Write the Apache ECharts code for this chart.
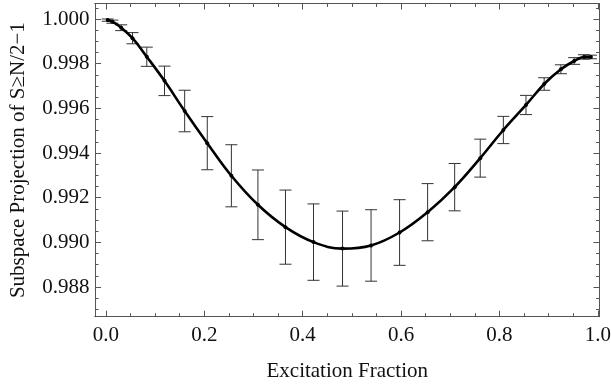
<!DOCTYPE html>
<html>
<head>
<meta charset="utf-8">
<script src="https://cdn.jsdelivr.net/npm/echarts@6/dist/echarts.min.js"></script>
<style>
html,body{margin:0;padding:0;background:#fff;}
#chart{width:611px;height:392px;}
</style>
</head>
<body>
<div id="chart"></div>
<script>
// ---- data ----
const excitation = [0.0035, 0.013, 0.031, 0.054, 0.083, 0.119, 0.160, 0.206, 0.255, 0.309, 0.365, 0.422, 0.481, 0.539, 0.597, 0.654, 0.709, 0.761, 0.808, 0.854, 0.891, 0.925, 0.952, 0.972, 0.986];
const projection = [0.99995, 0.99988, 0.99961, 0.99914, 0.99831, 0.99723, 0.99588, 0.99444, 0.99298, 0.99168, 0.99068, 0.99001, 0.98972, 0.98986, 0.99044, 0.99135, 0.99247, 0.99377, 0.99503, 0.99615, 0.99709, 0.99775, 0.99812, 0.99830, 0.99830];
const errors = [0.00005, 0.00007, 0.00013, 0.00025, 0.00043, 0.00066, 0.00093, 0.00119, 0.00139, 0.00156, 0.00166, 0.00171, 0.00168, 0.00160, 0.00147, 0.00128, 0.00106, 0.00085, 0.00061, 0.00043, 0.00028, 0.00020, 0.00015, 0.00010, 0.00008];
const xTickLabels = [0.0, 0.2, 0.4, 0.6, 0.8, 1.0];
const yTickLabels = [0.988, 0.990, 0.992, 0.994, 0.996, 0.998, 1.000];
const xTitle = 'Excitation Fraction';
const yTitle = 'Subspace Projection of S\u2265N/2\u22121';

// axis ranges
const X_MIN = -0.0223, X_MAX = 1.0035;
const Y_MIN = 0.98667, Y_MAX = 1.000694;

// minor ticks (every 0.05 on x, every 0.0005 on y, majors excluded)
const xMinor = [];
for (let i = 0; i <= 20; i++) { if (i % 4 !== 0) xMinor.push(i * 0.05); }
const yMinorVals = [];
for (let k = 1974; k <= 2001; k++) { if (k % 4 !== 0) yMinorVals.push(k * 0.0005); }

const FONT = 'Liberation Serif';
const AX = '#555';
const GRID = { left: 94.5, right: 11.5, top: 3.5, bottom: 75.3 };

function xAx(pos, major, showName) {
  return {
    type: 'value', position: pos, min: X_MIN, max: X_MAX,
    axisLine: { show: true, onZero: false, lineStyle: { color: AX, width: 1 } },
    axisTick: { show: true, inside: true, length: major ? 6 : 3.5, lineStyle: { color: AX, width: 1 },
      customValues: major ? xTickLabels : xMinor },
    axisLabel: { show: false },
    splitLine: { show: false },
    name: showName ? xTitle : '', nameLocation: 'middle', nameGap: 44,
    nameTextStyle: { fontFamily: FONT, fontSize: 21, color: '#111' }
  };
}
function yAx(pos, major, showName) {
  return {
    type: 'value', position: pos, min: Y_MIN, max: Y_MAX,
    axisLine: { show: true, onZero: false, lineStyle: { color: AX, width: 1 } },
    axisTick: { show: true, inside: true, length: major ? 6 : 3.5, lineStyle: { color: AX, width: 1 },
      customValues: major ? yTickLabels : yMinorVals },
    axisLabel: { show: false },
    splitLine: { show: false },
    name: showName ? yTitle : '', nameLocation: 'middle', nameGap: 66,
    nameTextStyle: { fontFamily: FONT, fontSize: 21, color: '#111' }
  };
}

const pts = excitation.map((x, i) => [x, projection[i]]);
const errData = excitation.map((x, i) => [x, projection[i] - errors[i], projection[i] + errors[i]]);

const chart = echarts.init(document.getElementById('chart'), null, { renderer: 'canvas' });
chart.setOption({
  animation: false,
  backgroundColor: '#fff',
  textStyle: { fontFamily: FONT },
  grid: Object.assign({ containLabel: false }, GRID),
  xAxis: [xAx('bottom', true, true), xAx('bottom', false, false), xAx('top', true, false), xAx('top', false, false)],
  yAxis: [yAx('left', true, true), yAx('left', false, false), yAx('right', true, false), yAx('right', false, false)],
  series: [
    {
      type: 'custom', xAxisIndex: 0, yAxisIndex: 0, data: errData, z: 2,
      renderItem: function (params, api) {
        const x = api.value(0);
        const lo = api.coord([x, api.value(1)]);
        const hi = api.coord([x, api.value(2)]);
        const hw = 6;
        const style = { stroke: '#333', lineWidth: 1, fill: null };
        return {
          type: 'group',
          children: [
            { type: 'line', shape: { x1: lo[0], y1: lo[1], x2: hi[0], y2: hi[1] }, style },
            { type: 'line', shape: { x1: lo[0] - hw, y1: lo[1], x2: lo[0] + hw, y2: lo[1] }, style },
            { type: 'line', shape: { x1: hi[0] - hw, y1: hi[1], x2: hi[0] + hw, y2: hi[1] }, style }
          ]
        };
      }
    },
    {
      type: 'line', xAxisIndex: 0, yAxisIndex: 0, data: pts, z: 3,
      smooth: 0.4, symbol: 'circle', symbolSize: 4, showSymbol: true,
      itemStyle: { color: '#000' },
      lineStyle: { color: '#000', width: 2.6 }
    }
  ]
});

// tick labels as real text, positioned through the axes' own scales
const H = 392;
const axisBottomY = H - GRID.bottom;
const labels = [];
xTickLabels.forEach(v => {
  const px = chart.convertToPixel({ xAxisIndex: 0 }, v);
  labels.push({ type: 'text', silent: true, x: px, y: axisBottomY + 18.5,
    style: { text: v.toFixed(1), font: '21px "Liberation Serif"', fill: '#111', align: 'center', verticalAlign: 'middle' } });
});
yTickLabels.forEach(v => {
  const py = chart.convertToPixel({ yAxisIndex: 0 }, v);
  labels.push({ type: 'text', silent: true, x: GRID.left - 5, y: py,
    style: { text: v.toFixed(3), font: '21px "Liberation Serif"', fill: '#111', align: 'right', verticalAlign: 'middle' } });
});
chart.setOption({ graphic: labels });
</script>
</body>
</html>
